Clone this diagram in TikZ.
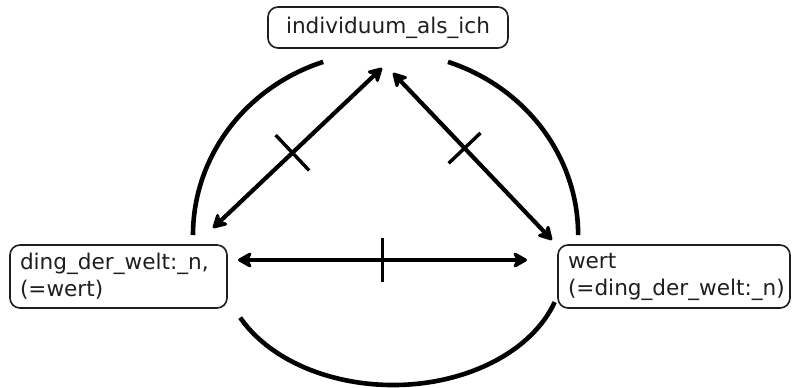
\documentclass[tikz,border=0pt]{standalone}
\usepackage{fontspec}
\setmainfont{DejaVu Sans}
\usetikzlibrary{arrows.meta,calc}
\definecolor{inkblack}{RGB}{0,0,0}
\definecolor{textgrey}{RGB}{30,30,30}
\tikzset{
  base/.style={font=\fontsize{10.8}{13.5}\selectfont, text=textgrey},
  box/.style={base, rectangle, rounded corners=5pt, draw=textgrey, fill=white, line width=0.8pt, minimum height=31.5pt},
  sidebox/.style={box, align=left, inner xsep=5pt},
  arr2/.style={line width=2.1pt, draw=inkblack, arrows={Stealth[length=8.5pt,width=9.5pt,inset=2.5pt,round]-Stealth[length=8.5pt,width=9.5pt,inset=2.5pt,round]}},
  tickmark/.style={line width=1.7pt, draw=inkblack},
  ring/.style={line width=2.3pt, draw=inkblack},
}
\begin{document}
\begin{tikzpicture}[x=0.5pt,y=0.5pt]
  \useasboundingbox (0,0) rectangle (792,387);
  % the three boxes
  \node[box, minimum width=120pt, minimum height=20.5pt] (ich) at (388,359.5) {individuum\_als\_ich};
  \node[sidebox, text width=98.5pt] (ding) at (118.5,110.5) {ding\_der\_welt:\_n,\\(=wert)};
  \node[sidebox, text width=106pt] (wert) at (674,110.5) {wert\\(=ding\_der\_welt:\_n)};
  % arrow ends
  \coordinate (ichL) at (382,319);
  \coordinate (ichR) at (393,314);
  \coordinate (dingT) at (213,159);
  \coordinate (dingR) at (238,127);
  \coordinate (wertT) at (552,147);
  \coordinate (wertL) at (527,127);
  % circle round it
  \draw[ring] (193,152) arc[start angle=180, end angle=108.9, x radius=192.5, y radius=183];
  \draw[ring] (448,325.1) arc[start angle=71.1, end angle=0, x radius=192.5, y radius=183];
  \draw[ring] (240.2,69.4) arc[start angle=206, end angle=342, x radius=170, y radius=120];
  % arrows
  \draw[arr2] (dingT) -- (ichL);
  \draw[arr2] (ichR) -- (wertT);
  \draw[arr2] (dingR) -- (wertL);
  % ticks across the arrows
  \foreach \a/\b/\p/\l in {dingT/ichL/0.47/12.2pt, ichR/wertT/0.45/11pt, dingR/wertL/0.5/11pt}{
    \coordinate (m) at ($(\a)!\p!(\b)$);
    \draw[tickmark] ($(m)!\l!90:(\b)$) -- ($(m)!\l!-90:(\b)$);
  }
\end{tikzpicture}
\end{document}
